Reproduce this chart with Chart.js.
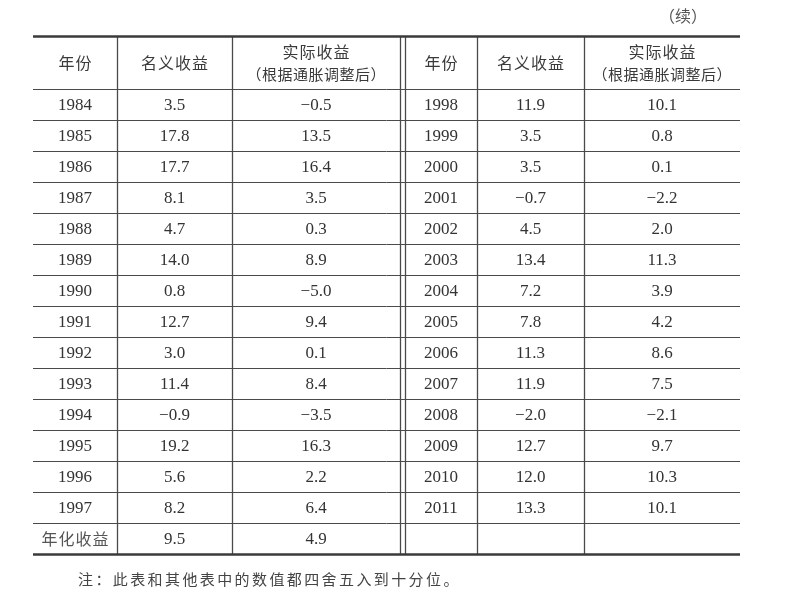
<!DOCTYPE html>
<html>
<head>
<meta charset="utf-8">
<script src="https://cdn.jsdelivr.net/npm/chart.js@4"></script>
<style>
  body { margin: 0; background: #fff; }
  canvas { display: block; }
</style>
</head>
<body>
<canvas id="returnsTable" width="798" height="598"></canvas>
<script>
// table data
const yearsLeft = [1984, 1985, 1986, 1987, 1988, 1989, 1990, 1991, 1992, 1993, 1994, 1995, 1996, 1997];
const nominalLeft = [3.5, 17.8, 17.7, 8.1, 4.7, 14.0, 0.8, 12.7, 3.0, 11.4, -0.9, 19.2, 5.6, 8.2];
const realLeft = [-0.5, 13.5, 16.4, 3.5, 0.3, 8.9, -5.0, 9.4, 0.1, 8.4, -3.5, 16.3, 2.2, 6.4];
const yearsRight = [1998, 1999, 2000, 2001, 2002, 2003, 2004, 2005, 2006, 2007, 2008, 2009, 2010, 2011];
const nominalRight = [11.9, 3.5, 3.5, -0.7, 4.5, 13.4, 7.2, 7.8, 11.3, 11.9, -2.0, 12.7, 12.0, 13.3];
const realRight = [10.1, 0.8, 0.1, -2.2, 2.0, 11.3, 3.9, 4.2, 8.6, 7.5, -2.1, 9.7, 10.3, 10.1];
const summaryLabel = '年化收益';
const summaryValues = [9.5, 4.9];
const headers = [['年份'], ['名义收益'], ['实际收益', '（根据通胀调整后）']];
const noteText = '注：此表和其他表中的数值都四舍五入到十分位。';
const contText = '（续）';

// layout: column edges in table units (x scale), header height in row units
const colEdges = [0, 84, 199, 367, 372, 444, 551, 707];
const headerRows = 53 / 31;
const rowCount = 15;

const leftMids = [0, 1, 2].map(i => (colEdges[i] + colEdges[i + 1]) / 2);
const rightMids = [4, 5, 6].map(i => (colEdges[i] + colEdges[i + 1]) / 2);

function fmt(v) {
  let s = Math.abs(v).toFixed(1);
  return v < 0 ? '\u2212' + s : s;
}

function column(x, labels) {
  return {
    data: labels.map((t, i) => ({ x: x, y: i + 0.5 })),
    cellText: labels,
    pointRadius: 0
  };
}

const datasets = [
  column(leftMids[0], yearsLeft.map(String)),
  column(leftMids[1], nominalLeft.map(fmt).concat(fmt(summaryValues[0]))),
  column(leftMids[2], realLeft.map(fmt).concat(fmt(summaryValues[1]))),
  column(rightMids[0], yearsRight.map(String)),
  column(rightMids[1], nominalRight.map(fmt)),
  column(rightMids[2], realRight.map(fmt)),
  Object.assign(column(leftMids[0], [summaryLabel]), { data: [{ x: leftMids[0], y: 14.5 }], cjk: true })
];

const CJK = '"Noto Sans CJK SC", "Noto Sans", sans-serif';
const SERIF = '"Liberation Serif", "DejaVu Serif", serif';

function spacedText(ctx, text, cx, cy, gap) {
  let chars = Array.from(text);
  let w = chars.reduce((a, c) => a + ctx.measureText(c).width, 0) + gap * (chars.length - 1);
  let x = cx - w / 2;
  ctx.textAlign = 'left';
  chars.forEach(c => {
    ctx.fillText(c, x, cy);
    x += ctx.measureText(c).width + gap;
  });
}

const tablePlugin = {
  id: 'tablePlugin',
  beforeDatasetsDraw(chart) {
    const ctx = chart.ctx;
    const xs = chart.scales.x, ys = chart.scales.y;
    const top = ys.getPixelForValue(-headerRows);
    const bottom = ys.getPixelForValue(rowCount);
    const left = xs.getPixelForValue(colEdges[0]);
    const right = xs.getPixelForValue(colEdges[colEdges.length - 1]);
    ctx.save();
    ctx.strokeStyle = '#4a4a4a';
    ctx.lineWidth = 1;
    for (let r = 0; r < rowCount; r++) {
      let y = Math.round(ys.getPixelForValue(r)) + 0.5;
      ctx.beginPath();
      ctx.moveTo(left, y);
      ctx.lineTo(right, y);
      ctx.stroke();
    }
    ctx.lineWidth = 1.3;
    colEdges.slice(1, -1).forEach(e => {
      let x = Math.round(xs.getPixelForValue(e)) + 0.5;
      ctx.beginPath();
      ctx.moveTo(x, top);
      ctx.lineTo(x, bottom);
      ctx.stroke();
    });
    ctx.lineWidth = 2.5;
    ctx.strokeStyle = '#3a3a3a';
    [top + 0.5, bottom + 0.5].forEach(y => {
      ctx.beginPath();
      ctx.moveTo(left, y);
      ctx.lineTo(right, y);
      ctx.stroke();
    });

    // header cells
    ctx.fillStyle = '#3a3a3a';
    ctx.textBaseline = 'middle';
    const mids = leftMids.concat(rightMids);
    const hMid = ys.getPixelForValue(-headerRows / 2);
    mids.forEach((m, i) => {
      const lines = headers[i % 3];
      const cx = xs.getPixelForValue(m);
      if (lines.length === 1) {
        ctx.font = '16px ' + CJK;
        spacedText(ctx, lines[0], cx, hMid, 1);
      } else {
        ctx.font = '16px ' + CJK;
        spacedText(ctx, lines[0], cx, hMid - 11, 1);
        ctx.font = '15px ' + CJK;
        spacedText(ctx, lines[1], cx, hMid + 12, 0.5);
      }
    });

    // continuation mark and note
    ctx.font = '16px ' + CJK;
    ctx.fillStyle = '#555';
    spacedText(ctx, contText, 683, 16, 0);
    ctx.font = '15px ' + CJK;
    ctx.fillStyle = '#444';
    ctx.textAlign = 'left';
    let x = 78;
    Array.from(noteText).forEach(c => {
      ctx.fillText(c, x, 579);
      x += ctx.measureText(c).width + 2.4;
    });
    ctx.restore();
  },
  afterDatasetsDraw(chart) {
    const ctx = chart.ctx;
    ctx.save();
    ctx.textBaseline = 'middle';
    chart.data.datasets.forEach((ds, di) => {
      const meta = chart.getDatasetMeta(di);
      meta.data.forEach((pt, i) => {
        if (ds.cjk) {
          ctx.font = '16px ' + CJK;
          ctx.fillStyle = '#555';
          spacedText(ctx, ds.cellText[i], pt.x, pt.y, 1);
        } else {
          ctx.font = '17px ' + SERIF;
          ctx.fillStyle = '#333';
          ctx.textAlign = 'center';
          ctx.fillText(ds.cellText[i], pt.x, pt.y + 1);
        }
      });
    });
    ctx.restore();
  }
};

new Chart(document.getElementById('returnsTable').getContext('2d'), {
  type: 'scatter',
  data: { datasets: datasets },
  options: {
    responsive: false,
    animation: false,
    layout: { padding: { left: 33, right: 58, top: 36, bottom: 44 } },
    plugins: { legend: { display: false }, tooltip: { enabled: false } },
    events: [],
    scales: {
      x: { display: false, min: colEdges[0], max: colEdges[colEdges.length - 1] },
      y: { display: false, reverse: true, min: -headerRows, max: rowCount }
    }
  },
  plugins: [tablePlugin]
});
</script>
</body>
</html>
